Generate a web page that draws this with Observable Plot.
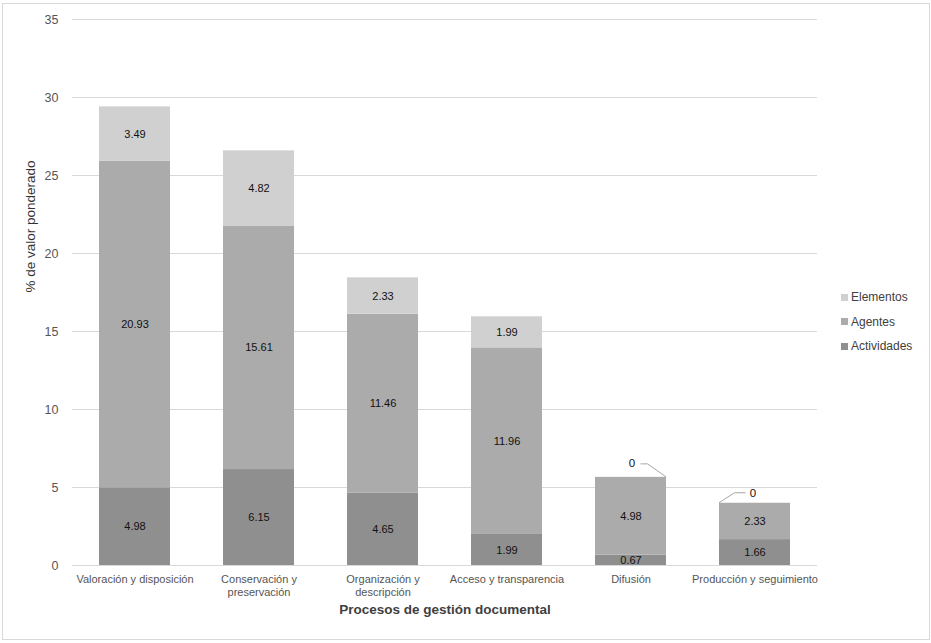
<!DOCTYPE html>
<html><head><meta charset="utf-8">
<script src="https://cdn.jsdelivr.net/npm/d3@7"></script>
<script src="https://cdn.jsdelivr.net/npm/@observablehq/plot@0.6"></script>
<style>
body{margin:0;background:#fff;font-family:"Liberation Sans",Arial,sans-serif;}
#wrap{position:relative;width:931px;height:643px;overflow:hidden;}
#chart svg{position:absolute;left:0;top:0;}
#frame{position:absolute;left:2px;top:3px;width:926px;height:635px;border:1px solid #d9d9d9;pointer-events:none;}
#legend{position:absolute;left:841px;top:285px;font-size:12px;color:#404040;}
.item{display:flex;align-items:center;height:24.5px;white-space:nowrap;}
.sw{width:7px;height:7px;margin-right:3px;}
</style></head><body>
<div id="wrap"><div id="chart"></div><div id="legend"></div><div id="frame"></div></div>
<script>
const categories = ["Valoración y disposición", "Conservación y\npreservación", "Organización y\ndescripción", "Acceso y transparencia", "Difusión", "Producción y seguimiento"];
const seriesNames = ["Actividades", "Agentes", "Elementos"];
const actividades = [4.98, 6.15, 4.65, 1.99, 0.67, 1.66];
const agentes = [20.93, 15.61, 11.46, 11.96, 4.98, 2.33];
const elementos = [3.49, 4.82, 2.33, 1.99, 0, 0];
const yTicks = [0, 5, 10, 15, 20, 25, 30, 35];
const colors = ["#8f8f8f", "#ababab", "#d0d0d0"];
const legendOrder = ["Elementos", "Agentes", "Actividades"];

const values = {Actividades: actividades, Agentes: agentes, Elementos: elementos};
const data = [];
categories.forEach((c, i) => seriesNames.forEach(s => data.push({c, s, v: values[s][i]})));
const totals = categories.map((c, i) => ({c, total: actividades[i] + agentes[i] + elementos[i], elem: elementos[i]}));

const font = '"Liberation Sans", Arial, sans-serif';
const chart = Plot.plot({
  width: 931, height: 643,
  marginLeft: 72, marginRight: 114, marginTop: 19, marginBottom: 78,
  style: {fontFamily: font, background: "transparent", color: "#595959"},
  x: {domain: categories, paddingInner: 0.43, paddingOuter: 0.215, axis: null},
  y: {domain: [0, 35], axis: null},
  color: {domain: seriesNames, range: colors},
  marks: [
    Plot.ruleY(yTicks, {stroke: "#d9d9d9", strokeWidth: 1}),
    Plot.barY(data, {x: "c", y: "v", fill: "s"}),
    Plot.text(data.filter(d => d.v > 0), Plot.stackY({x: "c", y: "v", z: "s", text: d => d.v.toFixed(2), fill: "#111", fontSize: 11})),
    Plot.text(totals.filter(d => d.c === "Difusión"), {x: "c", y: "total", text: d => String(d.elem), dx: 1, dy: -14, fill: "#111", fontSize: 11.5}),
    Plot.text(totals.filter(d => d.c === "Producción y seguimiento"), {x: "c", y: "total", text: d => String(d.elem), dx: -2, dy: -10, fill: "#111", fontSize: 11.5}),
    Plot.text(yTicks, {y: d => d, frameAnchor: "left", dx: -14, textAnchor: "end", fontSize: 12.5, fill: "#555"}),
    Plot.text(categories, {x: d => d, frameAnchor: "bottom", dy: 8, lineAnchor: "top", fontSize: 11, fill: "#555", lineHeight: 1.2}),
    Plot.text(["Procesos de gestión documental"], {frameAnchor: "bottom", dy: 48, fontSize: 13.5, fontWeight: "bold", fill: "#404040"}),
    Plot.text(["% de valor ponderado"], {frameAnchor: "left", dx: -42, rotate: -90, fontSize: 13.5, fill: "#333"})
  ]
});
document.getElementById("chart").appendChild(chart);

// leader lines for zero labels, positioned through the chart's scales
const xs = chart.scale("x"), ys = chart.scale("y");
const cx = c => xs.apply(c) + xs.bandwidth / 2;
const barHalf = xs.bandwidth / 2;
const svg = d3.select(chart);
totals.filter(d => d.elem === 0).forEach(d => {
  const x0 = cx(d.c), yt = ys.apply(d.total);
  let pts;
  if (d.c === "Difusión") pts = [[x0 + barHalf, yt], [x0 + 17, yt - 13], [x0 + 10, yt - 13]];
  else pts = [[x0 - barHalf, yt], [x0 - 20, yt - 10], [x0 - 9, yt - 10]];
  svg.append("path").attr("d", d3.line()(pts)).attr("fill", "none").attr("stroke", "#a6a6a6").attr("stroke-width", 1);
});

const lg = document.getElementById("legend");
legendOrder.forEach(s => {
  const it = document.createElement("div"); it.className = "item";
  const sw = document.createElement("div"); sw.className = "sw"; sw.style.background = colors[seriesNames.indexOf(s)];
  const t = document.createElement("span"); t.textContent = s;
  it.appendChild(sw); it.appendChild(t); lg.appendChild(it);
});
</script>
</body></html>
